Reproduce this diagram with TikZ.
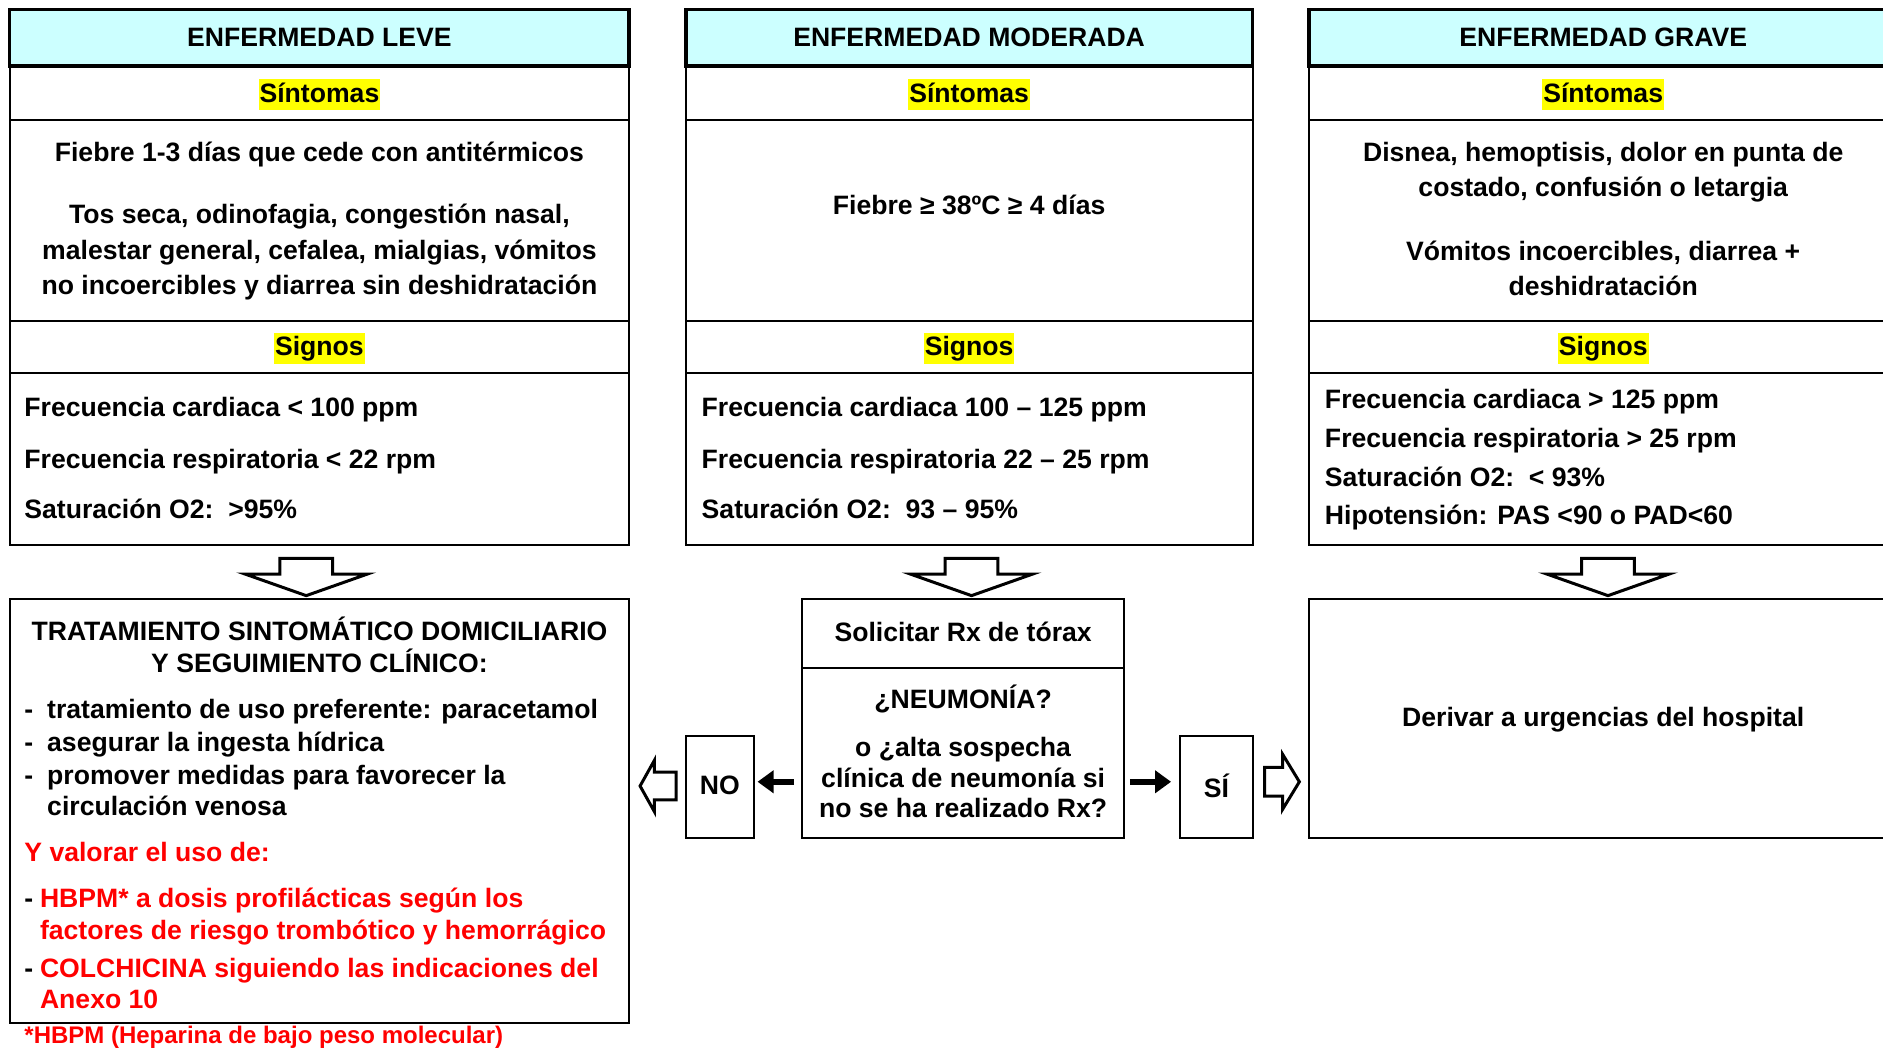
\documentclass[tikz,border=0pt]{standalone}
\usepackage{fontspec}
\setmainfont{Liberation Sans}
\usetikzlibrary{fit,arrows.meta}
\definecolor{hdr}{HTML}{CCFFFF}
\definecolor{hlyel}{HTML}{FFFF00}
\definecolor{redtxt}{HTML}{FF0000}
\begin{document}
\begin{tikzpicture}[x=0.6005pt,y=-0.6005pt,
  every node/.style={font=\bfseries\fontsize{13.3}{17.7}\selectfont, inner sep=0pt},
  cell/.style={draw, line width=1pt, inner sep=0pt},
  hdrcell/.style={draw, line width=1.8pt, fill=hdr, inner sep=0pt},
  hl/.style={fill=hlyel, inner xsep=0.5pt, inner ysep=0.5pt, text height=11pt, text depth=3.5pt},
  blockarrow/.style={draw, line width=1.5pt, fill=white, line join=miter},
  solidarrow/.style={line width=3.2pt, -{Triangle[length=8pt,width=11pt]}},
  lefttxt/.style={anchor=base west},
  redtext/.style={lefttxt, text=redtxt},
]
\useasboundingbox (0,0) rectangle (1568,873);
\fill[white] (0,0) rectangle (1568,873);
\clip (0,0) rectangle (1568,873);

% ---------- LEVE ----------
\node[cell, fit={(8,55)(524,100)}] (ls) {};
\node[cell, fit={(8,100)(524,267)}] (lsc) {};
\node[cell, fit={(8,267)(524,311)}] (lg) {};
\node[cell, fit={(8,311)(524,454)}] (lgc) {};
\node[hdrcell, fit={(8,8)(524,55)}] (lh) {};
\node (lht) at (266,31) {ENFERMEDAD LEVE};
\node[hl] (lst) at (266,79) {Síntomas};
\node (ls1) at (266,129) {Fiebre 1-3 días que cede con antitérmicos};
\node[align=center] (ls2) at (266,210) {Tos seca, odinofagia, congestión nasal,\\malestar general, cefalea, mialgias, vómitos\\no incoercibles y diarrea sin deshidratación};
\node[hl] (lgt) at (266,290) {Signos};
\node[lefttxt] (lg1) at (20,347) {Frecuencia cardiaca < 100 ppm};
\node[lefttxt] (lg2) at (20,390) {Frecuencia respiratoria < 22 rpm};
\node[lefttxt] (lg3) at (20,432) {Saturación O2:\ \ >95\%};

% ---------- MODERADA ----------
\node[cell, fit={(571,55)(1043,100)}] (ms) {};
\node[cell, fit={(571,100)(1043,267)}] (msc) {};
\node[cell, fit={(571,267)(1043,311)}] (mg) {};
\node[cell, fit={(571,311)(1043,454)}] (mgc) {};
\node[hdrcell, fit={(571,8)(1043,55)}] (mh) {};
\node (mht) at (807,31) {ENFERMEDAD MODERADA};
\node[hl] (mst) at (807,79) {Síntomas};
\node (ms1) at (807,171) {Fiebre ≥ 38ºC ≥ 4 días};
\node[hl] (mgt) at (807,290) {Signos};
\node[lefttxt] (mg1) at (584,347) {Frecuencia cardiaca 100 – 125 ppm};
\node[lefttxt] (mg2) at (584,390) {Frecuencia respiratoria 22 – 25 rpm};
\node[lefttxt] (mg3) at (584,432) {Saturación O2:\ \ 93 – 95\%};

% ---------- GRAVE ----------
\node[cell, fit={(1090,55)(1580,100)}] (gs) {};
\node[cell, fit={(1090,100)(1580,267)}] (gsc) {};
\node[cell, fit={(1090,267)(1580,311)}] (gg) {};
\node[cell, fit={(1090,311)(1580,454)}] (ggc) {};
\node[hdrcell, fit={(1090,8)(1580,55)}] (gh) {};
\node (ght) at (1335,31) {ENFERMEDAD GRAVE};
\node[hl] (gst) at (1335,79) {Síntomas};
\node[align=center] (gs1) at (1335,143.5) {Disnea, hemoptisis, dolor en punta de\\costado, confusión o letargia};
\node[align=center] (gs2) at (1335,223.5) {Vómitos incoercibles, diarrea +\\deshidratación};
\node[hl] (ggt) at (1335,290) {Signos};
\node[lefttxt] (gg1) at (1103,340) {Frecuencia cardiaca > 125 ppm};
\node[lefttxt] (gg2) at (1103,373) {Frecuencia respiratoria > 25 rpm};
\node[lefttxt] (gg3) at (1103,405) {Saturación O2:\ \ < 93\%};
\node[lefttxt] (gg4) at (1103,437) {Hipotensión: PAS <90 o PAD<60};

% ---------- down block arrows ----------
\foreach \cx in {255,809,1339}{
  \draw[blockarrow, shift={(\cx,0)}] (-22,465) -- (22,465) -- (22,478) -- (51,478) -- (0,496) -- (-51,478) -- (-22,478) -- cycle;
}

% ---------- bottom left ----------
\node[cell, fit={(8,499)(524,852)}] (lt) {};
\node[align=center, font=\bfseries\fontsize{13.3}{15.6}\selectfont] (ltt) at (266,537) {TRATAMIENTO SINTOMÁTICO DOMICILIARIO\\Y SEGUIMIENTO CLÍNICO:};
\node[lefttxt] (lb1) at (20,598) {\hbox to 11.4pt{-\hss}tratamiento de uso preferente: paracetamol};
\node[lefttxt] (lb2) at (20,626) {\hbox to 11.4pt{-\hss}asegurar la ingesta hídrica};
\node[lefttxt] (lb3) at (20,653) {\hbox to 11.4pt{-\hss}promover medidas para favorecer la};
\node[lefttxt] (lb4) at (39,679) {circulación venosa};
\node[redtext] (lr0) at (20,717) {Y valorar el uso de:};
\node[lefttxt] (lr1) at (20,756) {\hbox to 7.8pt{-\hss}\textcolor{redtxt}{HBPM* a dosis profilácticas según los}};
\node[redtext] (lr2) at (33,782) {factores de riesgo trombótico y hemorrágico};
\node[lefttxt] (lr3) at (20,814) {\hbox to 7.8pt{-\hss}\textcolor{redtxt}{COLCHICINA siguiendo las indicaciones del}};
\node[redtext] (lr4) at (33,840) {Anexo 10};
\node[redtext, font=\bfseries\fontsize{12}{14}\selectfont] (fn) at (20,869) {*HBPM (Heparina de bajo peso molecular)};

% ---------- middle bottom ----------
\node[cell, fit={(668,499)(936,556)}] (solA) {};
\node[cell, fit={(668,556)(936,698)}] (solB) {};
\node (solt) at (802,526) {Solicitar Rx de tórax};
\node (neu) at (802,582) {¿NEUMONÍA?};
\node[align=center, font=\bfseries\fontsize{13.3}{15.3}\selectfont] (neu2) at (802,647.5) {o ¿alta sospecha\\clínica de neumonía si\\no se ha realizado Rx?};
\node[cell, fit={(571,613)(628,698)}] (no) {};
\node (not) at (599.5,654) {NO};
\node[cell, fit={(983,613)(1043,698)}] (si) {};
\node (sit) at (1013,654) {SÍ};
\coordinate (ay) at (0,651);
\draw[solidarrow, shorten <=3.6pt, shorten >=1.2pt] (solB.west |- ay) -- (no.east |- ay);
\draw[solidarrow, shorten <=2.4pt, shorten >=4.2pt] (solB.east |- ay) -- (si.west |- ay);

% hollow side arrows
\draw[blockarrow] (563,643) -- (545,643) -- (545,633) -- (533,654.5) -- (545,676) -- (545,666) -- (563,666) -- cycle;
\draw[blockarrow] (1053,639) -- (1068,639) -- (1068,628) -- (1082,651) -- (1068,674) -- (1068,663) -- (1053,663) -- cycle;

% ---------- right bottom ----------
\node[cell, fit={(1090,499)(1580,698)}] (der) {};
\node (dert) at (1335,599) {Derivar a urgencias del hospital};
\end{tikzpicture}
\end{document}
